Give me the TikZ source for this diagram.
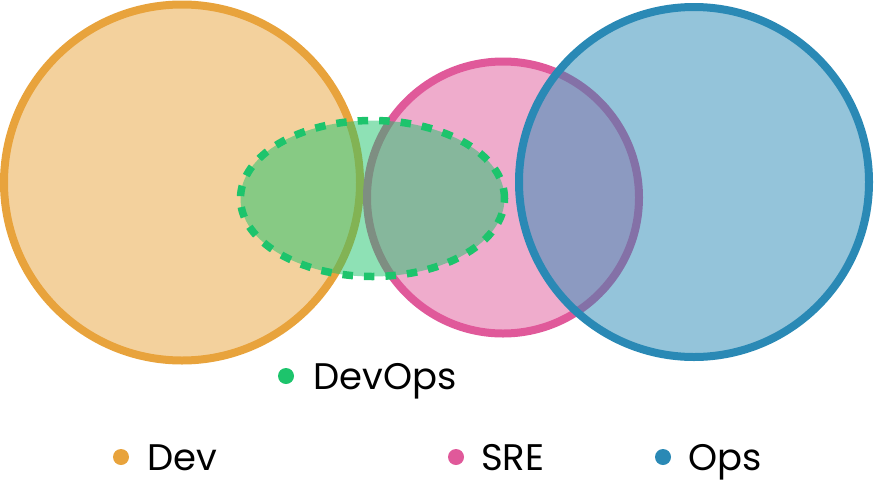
\documentclass[tikz,border=0pt]{standalone}
\usepackage{fontspec}
\setmainfont{Poppins}
\usetikzlibrary{shapes.geometric}

\definecolor{devc}{HTML}{E8A33C}
\definecolor{srec}{HTML}{E0599A}
\definecolor{opsc}{HTML}{2A89B5}
\definecolor{dvoc}{HTML}{1DC46C}

\tikzset{
  setcircle/.style={circle, draw=#1, fill=#1, fill opacity=0.5, draw opacity=1,
                    line width=8pt, inner sep=0pt},
  bullet/.style={circle, fill=#1, draw=none, inner sep=0pt, minimum size=16pt},
  legendtext/.style={anchor=base west, inner sep=0pt, text=black,
                     font=\fontsize{37}{42}\selectfont}
}

\begin{document}
\begin{tikzpicture}[x=1pt, y=-1pt]
  \useasboundingbox (0,0) rectangle (874,498);

  % the three sets
  \node[setcircle=devc, minimum size=356pt] (dev) at (182,182.5) {};
  \node[setcircle=srec, minimum size=272pt] (sre) at (503,197.5) {};
  \node[setcircle=opsc, minimum size=350pt] (ops) at (694,182) {};

  % DevOps region across Dev and SRE
  \node[ellipse, draw=dvoc, fill=dvoc, fill opacity=0.5, draw opacity=1,
        line width=7.5pt, dash pattern=on 10.5pt off 11pt,
        minimum width=264pt, minimum height=156pt, inner sep=0pt]
        (devops) at (372.5,198.5) {};

  % legend
  \node[bullet=dvoc] (kdevops) at (286,376) {};
  \node[legendtext] (ldevops) at (313,389) {DevOps};

  \node[bullet=devc] (kdev) at (121,457) {};
  \node[legendtext] (ldev) at (147,470) {Dev};

  \node[bullet=srec] (ksre) at (456,457) {};
  \node[legendtext] (lsre) at (481,470) {SRE};

  \node[bullet=opsc] (kops) at (663,457) {};
  \node[legendtext] (lops) at (688,470) {Ops};
\end{tikzpicture}
\end{document}
